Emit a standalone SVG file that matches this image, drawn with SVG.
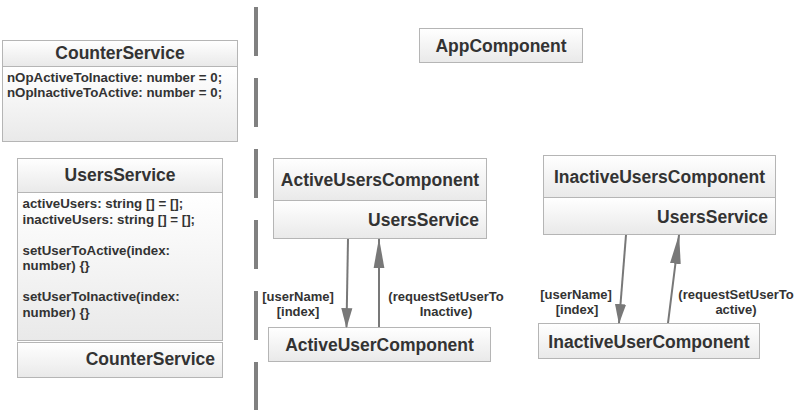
<svg xmlns="http://www.w3.org/2000/svg" width="800" height="410" viewBox="0 0 800 410">
<defs>
<linearGradient id="g" x1="0" y1="0" x2="0" y2="1">
<stop offset="0" stop-color="#ffffff"/>
<stop offset="1" stop-color="#e9e9e9"/>
</linearGradient>
<marker id="headDown" markerUnits="userSpaceOnUse" markerWidth="20" markerHeight="12" viewBox="0 0 18 10" refX="17" refY="5" orient="auto">
<path d="M0,0 L18,5 L0,10 z" fill="#787878"/>
</marker>
<marker id="headUp" markerUnits="userSpaceOnUse" markerWidth="30" markerHeight="12" viewBox="0 0 28 10" refX="27" refY="5" orient="auto">
<path d="M0,0 L28,5 L0,10 z" fill="#787878"/>
</marker>
<style>
.box{fill:url(#g);stroke:#b5b5b5;stroke-width:1}
.t{font-family:"Liberation Sans",Arial,sans-serif;font-weight:bold;font-size:17.5px;fill:#333}
.b{font-family:"Liberation Sans",Arial,sans-serif;font-weight:bold;font-size:13.3px;fill:#333}
.l{font-family:"Liberation Sans",Arial,sans-serif;font-weight:bold;font-size:13px;fill:#333}
.c{text-anchor:middle}
.r{text-anchor:end}
.conn{stroke:#787878;stroke-width:2;fill:none}
</style>
</defs>
<rect width="800" height="410" fill="#ffffff"/>
<line id="separator" x1="256" y1="7" x2="256" y2="410" stroke="#808080" stroke-width="4" stroke-dasharray="49 22"/>

<g id="counterService">
<rect class="box" x="2.5" y="40.5" width="235" height="26"/>
<rect class="box" x="2.5" y="66.5" width="235" height="75"/>
<text class="t c" x="120" y="59">CounterService</text>
<text class="b" x="7" y="81.5">nOpActiveToInactive: number = 0;</text>
<text class="b" x="7" y="96.5">nOpInactiveToActive: number = 0;</text>
</g>

<g id="usersService">
<rect class="box" x="17.5" y="158.5" width="205" height="34"/>
<rect class="box" x="17.5" y="192.5" width="205" height="148"/>
<text class="t c" x="120" y="181">UsersService</text>
<text class="b" x="22.5" y="208">activeUsers: string [] = [];</text>
<text class="b" x="22.5" y="223.5">inactiveUsers: string [] = [];</text>
<text class="b" x="22.5" y="254.5">setUserToActive(index:</text>
<text class="b" x="22.5" y="270">number) {}</text>
<text class="b" x="22.5" y="301">setUserToInactive(index:</text>
<text class="b" x="22.5" y="316.5">number) {}</text>
<rect class="box" x="17.5" y="342.5" width="205" height="35"/>
<text class="t r" x="215" y="365">CounterService</text>
</g>

<g id="appComponent">
<rect class="box" x="419.5" y="28.5" width="163" height="34"/>
<text class="t c" x="501" y="51.5">AppComponent</text>
</g>

<g id="activeUsersComponent">
<rect class="box" x="273.5" y="158.5" width="213" height="42"/>
<rect class="box" x="273.5" y="200.5" width="213" height="38"/>
<text class="t c" x="380" y="186">ActiveUsersComponent</text>
<text class="t r" x="479" y="226">UsersService</text>
</g>

<g id="activeUserComponent">
<rect class="box" x="268.5" y="327.5" width="222" height="34"/>
<text class="t c" x="379.5" y="351">ActiveUserComponent</text>
</g>

<g id="inactiveUsersComponent">
<rect class="box" x="543.5" y="155.5" width="232" height="42"/>
<rect class="box" x="543.5" y="197.5" width="232" height="37"/>
<text class="t c" x="659.5" y="183">InactiveUsersComponent</text>
<text class="t r" x="768" y="223">UsersService</text>
</g>

<g id="inactiveUserComponent">
<rect class="box" x="538.5" y="323.5" width="221" height="35"/>
<text class="t c" x="649" y="348">InactiveUserComponent</text>
</g>

<g id="connectors">
<line class="conn" x1="348" y1="239" x2="346.5" y2="327" marker-end="url(#headDown)"/>
<line class="conn" x1="379" y1="327" x2="379" y2="239" marker-end="url(#headUp)"/>
<line class="conn" x1="626" y1="235" x2="619" y2="323" marker-end="url(#headDown)"/>
<line class="conn" x1="668" y1="323" x2="679" y2="235" marker-end="url(#headUp)"/>
<text class="l c" x="298" y="301">[userName]</text>
<text class="l c" x="298" y="315.5">[index]</text>
<text class="l c" x="446" y="301">(requestSetUserTo</text>
<text class="l c" x="446" y="315.5">Inactive)</text>
<text class="l c" x="576" y="299">[userName]</text>
<text class="l c" x="577" y="313.5">[index]</text>
<text class="l c" x="736" y="299">(requestSetUserTo</text>
<text class="l c" x="736" y="313.5">active)</text>
</g>
</svg>
